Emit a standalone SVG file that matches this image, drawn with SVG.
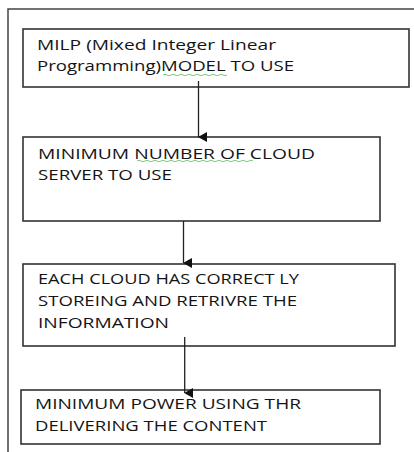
<svg xmlns="http://www.w3.org/2000/svg" width="414" height="452" viewBox="0 0 414 452">
<style>
.box{fill:#fff;stroke:#333;stroke-width:1.6}
.frame{fill:none;stroke:#444;stroke-width:1.5}
.t{font-family:"Open Sans","Liberation Sans",Arial,sans-serif;font-size:14px;fill:#141414}
.conn{stroke:#222;stroke-width:1.3;fill:none}
.sq{fill:none;stroke:#6cbf6c;stroke-width:0.9}
</style>
<defs>
<marker id="ah" markerWidth="10" markerHeight="9" refX="5" refY="8.5" orient="auto" markerUnits="userSpaceOnUse" viewBox="0 0 10 9">
<path d="M0,0 L10,0 L5,9 Z" fill="#111"/>
</marker>
</defs>
<rect width="414" height="452" fill="#fff"/>
<path class="frame" d="M8,452 V9 H414"/>
<g id="node1">
<rect class="box" x="23" y="29" width="386" height="58"/>
<text class="t" x="37" y="50" textLength="239" lengthAdjust="spacingAndGlyphs">MILP (Mixed Integer Linear</text>
<text class="t" x="37" y="71" textLength="257" lengthAdjust="spacingAndGlyphs">Programming)MODEL TO USE</text>
<path class="sq" d="M163,75 q2,-1.5 4,0 t4,0 t4,0 t4,0 t4,0 t4,0 t4,0 t4,0 t4,0 t4,0 t4,0 t4,0 t4,0 t4,0 t4,0 t4,0"/>
</g>
<g id="node2">
<rect class="box" x="23" y="137" width="357" height="84"/>
<text class="t" x="38" y="159" textLength="277" lengthAdjust="spacingAndGlyphs">MINIMUM NUMBER  OF CLOUD</text>
<text class="t" x="38" y="180" textLength="134" lengthAdjust="spacingAndGlyphs">SERVER TO USE</text>
<path class="sq" d="M137,161 q2,-1.5 4,0 t4,0 t4,0 t4,0 t4,0 t4,0 t4,0 t4,0 t4,0 t4,0 t4,0 t4,0 t4,0 t4,0 t4,0 t4,0 t4,0 t4,0 t4,0 t4,0 t4,0 t4,0 t4,0 t4,0 t4,0 t4,0 t4,0 t4,0 t4,0"/>
</g>
<g id="node3">
<rect class="box" x="23" y="264" width="372" height="82"/>
<text class="t" x="38" y="284" textLength="261" lengthAdjust="spacingAndGlyphs">EACH CLOUD HAS CORRECT LY</text>
<text class="t" x="38" y="306" textLength="259" lengthAdjust="spacingAndGlyphs">STOREING AND RETRIVRE THE</text>
<text class="t" x="38" y="328" textLength="131" lengthAdjust="spacingAndGlyphs">INFORMATION</text>
</g>
<g id="node4">
<rect class="box" x="21" y="390" width="359" height="54"/>
<text class="t" x="35" y="409" textLength="266" lengthAdjust="spacingAndGlyphs">MINIMUM POWER USING THR</text>
<text class="t" x="35" y="431" textLength="232" lengthAdjust="spacingAndGlyphs">DELIVERING THE CONTENT</text>
</g>
<g id="connectors">
<line class="conn" x1="198.5" y1="81" x2="198.5" y2="137" marker-end="url(#ah)"/>
<line class="conn" x1="183.5" y1="221" x2="183.5" y2="263" marker-end="url(#ah)"/>
<line class="conn" x1="184.7" y1="337" x2="184.7" y2="393" marker-end="url(#ah)"/>
</g>
</svg>
